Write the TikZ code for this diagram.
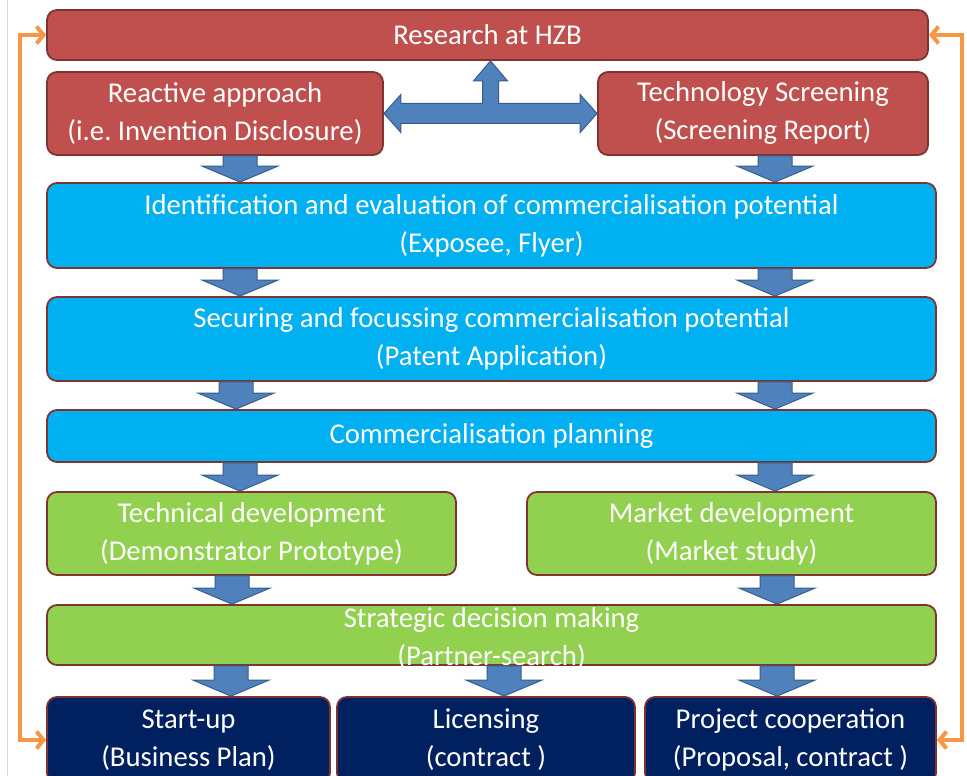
\documentclass[tikz,border=0pt]{standalone}
\usepackage{fontspec}
\setmainfont{Carlito}
\usepackage{tikz}
\usetikzlibrary{calc,arrows.meta}

\definecolor{hzbred}{RGB}{192,80,77}
\definecolor{boxline}{RGB}{128,52,50}
\definecolor{skyblue}{RGB}{0,176,240}
\definecolor{leafgreen}{RGB}{146,208,80}
\definecolor{navy}{RGB}{0,32,96}
\definecolor{arrowblue}{RGB}{79,129,189}
\definecolor{arrowedge}{RGB}{56,93,138}
\definecolor{loop}{RGB}{247,150,70}

\begin{document}
\begin{tikzpicture}[x=1pt,y=1pt,
  box/.style={draw=boxline,line width=1.8pt,rounded corners=10pt,inner sep=0pt,
    text=white,align=center,font=\fontsize{28.7}{38}\selectfont},
  blockarrow/.style={fill=arrowblue,draw=arrowedge,line width=1pt,line join=miter},
  feedback/.style={draw=loop,line width=4pt,{Straight Barb[length=7pt,width=17pt]}-{Straight Barb[length=7pt,width=17pt]}}]
  \useasboundingbox (0,0) rectangle (967,776);
  \draw[gray!30,line width=1pt] (7,0) -- (7,776);

  % sources
  \node[box,fill=hzbred,minimum width=881pt,minimum height=50pt] (research) at (487.5,741) {Research at HZB};
  \node[box,fill=hzbred,minimum width=336pt,minimum height=83pt] (reactive) at (215,662.5) {Reactive approach\\(i.e.\ Invention Disclosure)};
  \node[box,fill=hzbred,minimum width=330pt,minimum height=83pt] (techscr) at (763,662.5) {Technology Screening\\(Screening Report)};

  % evaluation and planning
  \node[box,fill=skyblue,minimum width=889pt,minimum height=85pt] (ident) at (491.5,550.5) {Identification and evaluation of commercialisation potential\\(Exposee, Flyer)};
  \node[box,fill=skyblue,minimum width=889pt,minimum height=84pt] (secure) at (491.5,437) {Securing and focussing commercialisation potential\\(Patent Application)};
  \node[box,fill=skyblue,minimum width=889pt,minimum height=52pt] (plan) at (491.5,340) {Commercialisation planning};

  % development
  \node[box,fill=leafgreen,minimum width=409pt,minimum height=83pt] (techdev) at (251.5,242.5) {Technical development\\(Demonstrator Prototype)};
  \node[box,fill=leafgreen,minimum width=409pt,minimum height=83pt] (market) at (731.5,242.5) {Market development\\(Market study)};
  \node[box,fill=leafgreen,minimum width=889pt,minimum height=60pt] (strat) at (491.5,141) {};
  \node[text=white,align=center,inner sep=0pt,font=\fontsize{28.7}{38}\selectfont] (stratlabel) at (491.5,137) {Strategic decision making\\(Partner-search)};

  % outcomes
  \node[box,fill=navy,minimum width=283pt,minimum height=86pt] (startup) at (188.5,36) {Start-up\\(Business Plan)};
  \node[box,fill=navy,minimum width=298pt,minimum height=86pt] (licens) at (486,36) {Licensing\\(contract )};
  \node[box,fill=navy,minimum width=291pt,minimum height=86pt] (project) at (790.5,36) {Project cooperation\\(Proposal, contract )};

  % block arrows down the chain
  \foreach \a/\b/\cx in {reactive/ident/240, techscr/ident/775, ident/secure/240, ident/secure/775,
      secure/plan/236, secure/plan/775, plan/techdev/240, plan/market/775,
      techdev/strat/232, market/strat/777, strat/startup/231, strat/licens/504, strat/project/777}
    \path[blockarrow] let \p1=(\a.south), \p2=(\b.north) in
      (\cx pt-17pt,\y1) -- (\cx pt+17pt,\y1) -- (\cx pt+17pt,\y2+16pt) -- (\cx pt+38pt,\y2+16pt)
      -- (\cx pt,\y2) -- (\cx pt-38pt,\y2+16pt) -- (\cx pt-17pt,\y2+16pt) -- cycle;

  % exchange between both sources and back to research
  \path[blockarrow] let \p1=(reactive.east), \p2=(techscr.west), \p3=(research.south),
      \p4=($(reactive.east)!.5!(techscr.west)$) in
    (\x1,\y1) -- (\x1+17pt,\y1+19pt) -- (\x1+17pt,\y1+10pt) -- (\x4-8pt,\y1+10pt)
    -- (\x4-8pt,\y3-20pt) -- (\x4-17pt,\y3-20pt) -- (\x4,\y3) -- (\x4+17pt,\y3-20pt)
    -- (\x4+8pt,\y3-20pt) -- (\x4+8pt,\y1+10pt) -- (\x2-17pt,\y1+10pt) -- (\x2-17pt,\y1+19pt)
    -- (\x2,\y1) -- (\x2-17pt,\y1-19pt) -- (\x2-17pt,\y1-10pt) -- (\x1+17pt,\y1-10pt)
    -- (\x1+17pt,\y1-19pt) -- cycle;

  % feedback loops
  \draw[feedback] (research.west) -- ++(-26,0) |- (startup.west);
  \draw[feedback] (research.east) -- ++(33,0) |- (project.east);
\end{tikzpicture}
\end{document}
